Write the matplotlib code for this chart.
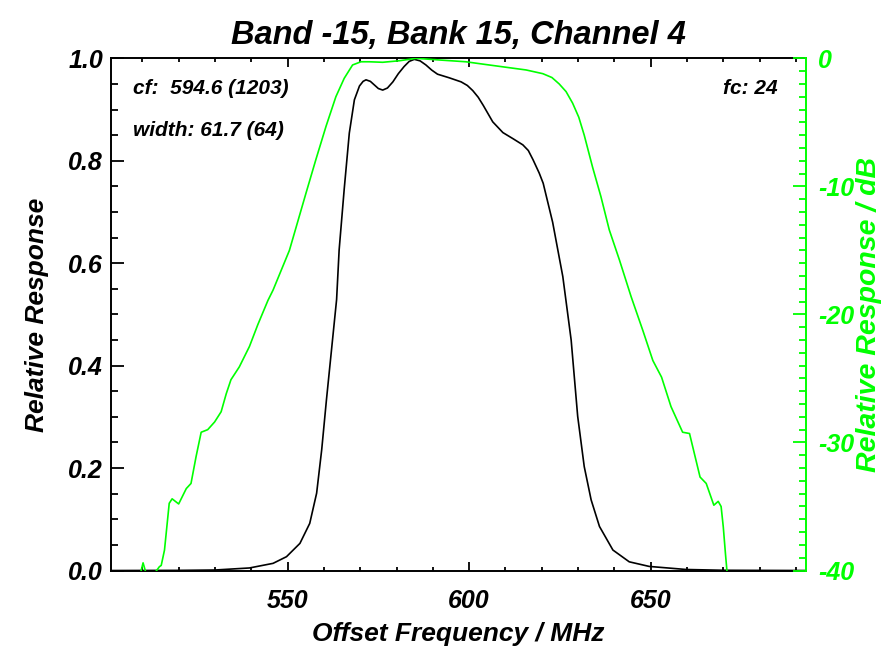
import numpy as np
import matplotlib
matplotlib.use('Agg')
from matplotlib import pyplot as plt
from matplotlib.ticker import MultipleLocator

# Data
# black curve: linear relative response
freq_lin = [501.5, 520, 530, 539.5, 546, 549.7, 553.4, 556.1, 558, 559.4, 560.7, 562.1,
            563.5, 564.2, 565.6, 567, 568.4, 569.8, 570.8, 571.6, 572.8, 573.9, 575, 576.2,
            577.5, 579, 580.5, 582.1, 583.5, 584.9, 586.5, 588.1, 589.7, 591.3, 594.5, 597.8,
            599.5, 601, 602.5, 603.9, 606.5, 609.3, 612.1, 614.8, 616.3, 617.6, 619.3, 620.4,
            623, 625.8, 628.1, 629.9, 631.7, 633.6, 635.9, 639.6, 644.1, 649.6, 659.8, 670, 692.7]
resp_lin = [0.0, 0.0003, 0.001, 0.005, 0.014, 0.027, 0.053, 0.092, 0.151, 0.236, 0.333, 0.431,
            0.529, 0.626, 0.745, 0.854, 0.919, 0.946, 0.955, 0.958, 0.955, 0.948, 0.941, 0.938,
            0.942, 0.954, 0.970, 0.984, 0.994, 0.998, 0.995, 0.987, 0.977, 0.969, 0.962, 0.954,
            0.947, 0.937, 0.924, 0.908, 0.876, 0.855, 0.843, 0.831, 0.820, 0.802, 0.776, 0.756,
            0.680, 0.574, 0.450, 0.301, 0.203, 0.138, 0.086, 0.040, 0.017, 0.008, 0.002, 0.0005, 0.0]

# green curve: response in dB
freq_db = [509.5, 510.2, 511.0, 512.3, 513.4, 514.7, 515.2, 516.1, 517.4, 518.2, 520, 522.1,
           523.4, 524.8, 526.2, 528, 529.9, 531.7, 533.1, 534.4, 536.7, 539.5, 541.8, 544.6,
           546, 550.5, 555.1, 557.8, 560.6, 563.3, 565.6, 567.9, 570.2, 572.5, 576.2, 580.8,
           585.4, 591.8, 599.1, 603.7, 610.2, 615.7, 620.3, 622.8, 624.8, 626.7, 628.5, 630.2,
           631.7, 634, 636.3, 638.6, 641.4, 644.6, 647.9, 650.6, 653, 655.6, 658.8, 660.7, 663.6,
           665.3, 667.4, 668.6, 669.4, 670, 670.6, 671, 671.3]
resp_db = [-40.2, -39.4, -40.2, -42, -40.2, -39.7, -39.6, -38.4, -34.75, -34.4, -34.8, -33.6,
           -33.2, -31.1, -29.2, -29.0, -28.4, -27.6, -26.2, -25.1, -24.1, -22.5, -20.8, -18.9,
           -18.1, -15.0, -10.5, -7.9, -5.3, -3.0, -1.56, -0.52, -0.27, -0.27, -0.31, -0.19,
           0.0, -0.13, -0.27, -0.45, -0.7, -0.91, -1.2, -1.5, -2.0, -2.6, -3.5, -4.6,
           -6.0, -8.5, -10.8, -13.4, -15.75, -18.6, -21.3, -23.6, -24.9, -27.2, -29.2, -29.3, -32.7,
           -33.2, -34.9, -34.6, -35.0, -36.6, -38.7, -40, -42]

title = 'Band -15, Bank 15, Channel 4'
cf_text = 'cf:  594.6 (1203)'
width_text = 'width: 61.7 (64)'
fc_text = 'fc: 24'

green = '#00ff00'
plt.rcParams['font.family'] = ['Liberation Sans', 'DejaVu Sans']
plt.rcParams['font.weight'] = 'bold'
plt.rcParams['font.style'] = 'italic'
plt.rcParams['axes.titleweight'] = 'bold'
plt.rcParams['axes.labelweight'] = 'bold'
plt.rcParams['axes.unicode_minus'] = False

fig = plt.figure(figsize=(8.82, 6.53), dpi=100)
ax = fig.add_axes([0.1264, 0.1263, 0.7871, 0.7844])
ax.plot(freq_lin, resp_lin, color='black', lw=1.2)
ax.set_xlim(501.5, 692.7)
ax.set_ylim(0, 1.0)
ax.xaxis.set_major_locator(MultipleLocator(50))
ax.xaxis.set_minor_locator(MultipleLocator(10))
ax.yaxis.set_major_locator(MultipleLocator(0.2))
ax.yaxis.set_minor_locator(MultipleLocator(0.05))
ax.yaxis.set_major_formatter(plt.FormatStrFormatter('%.1f'))
ax.tick_params(axis='x', which='both', direction='in', top=True, labelsize=18, pad=13, width=1.3)
ax.tick_params(axis='x', which='major', length=6.5)
ax.tick_params(axis='x', which='minor', length=3.2)
ax.tick_params(axis='y', which='both', direction='in', right=False, labelsize=18, pad=6, width=1.3)
ax.tick_params(axis='y', which='major', length=9.3)
ax.tick_params(axis='y', which='minor', length=4.7)
for s in ['left', 'bottom', 'top']:
    ax.spines[s].set_linewidth(1.4)
ax.spines['right'].set_visible(False)
ax.set_xlabel('Offset Frequency / MHz', fontsize=19, labelpad=7)
ax.set_ylabel('Relative Response', fontsize=19, labelpad=14)
ax.set_title(title, fontsize=23.5, pad=10)

ax.text(0.031, 0.942, cf_text, transform=ax.transAxes, fontsize=15, va='center', ha='left')
ax.text(0.031, 0.860, width_text, transform=ax.transAxes, fontsize=15, va='center', ha='left')
ax.text(0.960, 0.942, fc_text, transform=ax.transAxes, fontsize=15, va='center', ha='right')

ax2 = ax.twinx()
ax2.plot(freq_db, resp_db, color=green, lw=1.2)
ax2.set_ylim(-40, 0)
ax2.yaxis.set_major_locator(MultipleLocator(10))
ax2.yaxis.set_minor_locator(MultipleLocator(1))
ax2.tick_params(axis='y', which='both', direction='in', colors=green, labelsize=18, pad=9, width=1.3)
ax2.tick_params(axis='y', which='major', length=9.3)
ax2.tick_params(axis='y', which='minor', length=4.7)
ax2.spines['right'].set_color(green)
ax2.spines['right'].set_linewidth(1.4)
for s in ['left', 'bottom', 'top']:
    ax2.spines[s].set_visible(False)
ax2.set_ylabel('Relative Response / dB', fontsize=20.5, color=green, labelpad=1)

plt.savefig('out.png', dpi=100)
